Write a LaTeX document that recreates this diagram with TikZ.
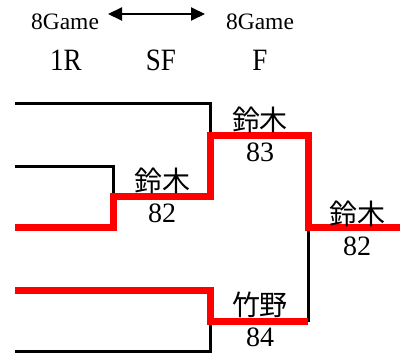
\documentclass[tikz,border=0pt]{standalone}
\usepackage{fontspec}
\setmainfont{Liberation Serif}
\newfontfamily\jp{Noto Sans CJK JP}
\usetikzlibrary{arrows.meta}
\begin{document}
\begin{tikzpicture}[x=1pt,y=-1pt,
  blkline/.style={draw=black,line width=3pt},
  winline/.style={draw=red,line width=7pt,miter limit=10},
  playername/.style={inner sep=0pt,font=\jp\fontsize{28}{30}\selectfont},
  playerscore/.style={inner sep=0pt,font=\fontsize{28}{30}\selectfont},
  gamehead/.style={inner sep=0pt,font=\fontsize{23.5}{25}\selectfont},
  roundhead/.style={inner sep=0pt,font=\fontsize{27}{29}\selectfont,yscale=1.15}]
\useasboundingbox (0,0) rectangle (400,358);
% bracket points
\coordinate (p1) at (15,104);
\coordinate (p1e) at (210,104);
\coordinate (q1) at (210,136);
\coordinate (p2) at (15,167);
\coordinate (p2e) at (113,167);
\coordinate (q2) at (113,197);
\coordinate (p3) at (15,228);
\coordinate (q3) at (113,228);
\coordinate (s1) at (210,197);
\coordinate (f1) at (308,136);
\coordinate (fm) at (308,228);
\coordinate (ch) at (400,228);
\coordinate (p4) at (15,291);
\coordinate (q4) at (210,291);
\coordinate (s2) at (210,322);
\coordinate (f2) at (308,322);
\coordinate (p5) at (15,352);
\coordinate (p5e) at (210,352);
% black lines
\draw[blkline] (p1) -- (p1e) -- (q1);
\draw[blkline] (p2) -- (p2e) -- (q2);
\draw[blkline] (p5) -- (p5e) -- (s2);
\draw[blkline] (f2) -- (fm);
% red winning path
\draw[winline] (p3) -- (q3) -- (q2) -- (s1) -- (q1) -- (f1) -- (fm) -- (ch);
\draw[winline] (p4) -- (q4) -- (s2) -- (f2);
% header
\node[gamehead] (g1) at (65,22) {8Game};
\node[gamehead] (g2) at (260,22) {8Game};
\coordinate (a1) at (108,14);
\coordinate (a2) at (205,14);
\draw[line width=2pt,{Triangle[length=14pt,width=13pt]}-{Triangle[length=14pt,width=13pt]}] (a1) -- (a2);
\node[roundhead] (r1) at (66,60) {1R};
\node[roundhead] (r2) at (161,60) {SF};
\node[roundhead] (r3) at (260,60) {F};
% labels
\node[playername] (n1) at (163,181) {鈴木};
\node[playerscore] (c1) at (162,213) {82};
\node[playername] (n2) at (260,120) {鈴木};
\node[playerscore] (c2) at (260,152) {83};
\node[playername] (n3) at (357,214) {鈴木};
\node[playerscore] (c3) at (357,246) {82};
\node[playername] (n4) at (260,305) {竹野};
\node[playerscore] (c4) at (260,337) {84};
\end{tikzpicture}
\end{document}
